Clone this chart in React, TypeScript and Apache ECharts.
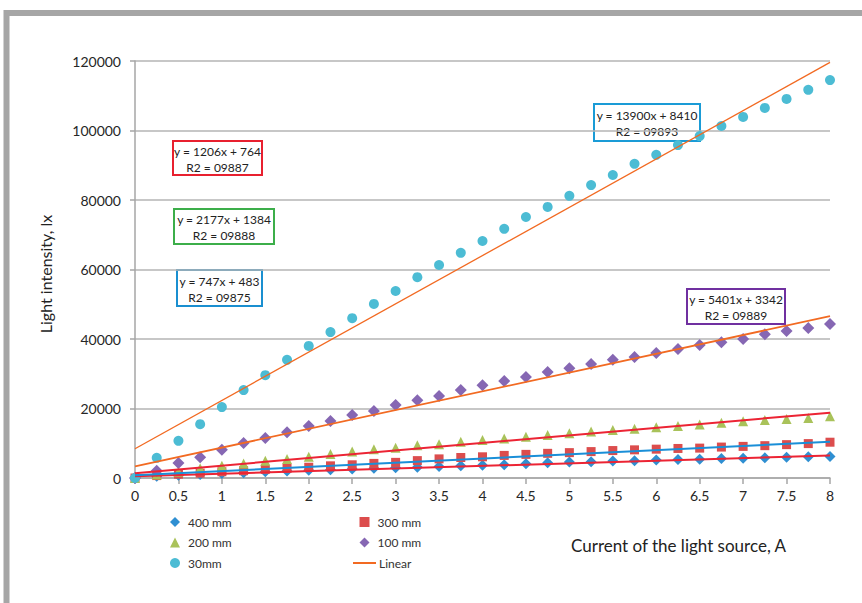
import React, { useEffect, useRef } from "react";
import * as echarts from "echarts";

const current = [0, 0.25, 0.5, 0.75, 1, 1.25, 1.5, 1.75, 2, 2.25, 2.5, 2.75, 3, 3.25, 3.5, 3.75, 4, 4.25, 4.5, 4.75, 5, 5.25, 5.5, 5.75, 6, 6.25, 6.5, 6.75, 7, 7.25, 7.5, 7.75, 8];

const lux400 = [0, 500, 800, 1000, 1300, 1500, 1800, 2000, 2200, 2400, 2600, 2800, 2950, 3100, 3300, 3500, 3700, 3800, 4100, 4400, 4600, 4700, 4900, 5000, 5200, 5300, 5400, 5600, 5700, 5800, 6000, 6100, 6200];
const lux300 = [0, 700, 1100, 1400, 1800, 2100, 2500, 2800, 3100, 3500, 3800, 4200, 4500, 5000, 5500, 5900, 6100, 6500, 6800, 7100, 7300, 7600, 7900, 8100, 8300, 8500, 8600, 8900, 9100, 9300, 9600, 9900, 10300];
const lux200 = [0, 1000, 1800, 2800, 3500, 4200, 5000, 5500, 6100, 6900, 7600, 8300, 8700, 9400, 9700, 10400, 10900, 11400, 11900, 12400, 12900, 13400, 13800, 14200, 14600, 15000, 15400, 15900, 16300, 16700, 17000, 17300, 17800];
const lux100 = [0, 2100, 4300, 6000, 8100, 10100, 11500, 13200, 15000, 16400, 18100, 19300, 21000, 22400, 23600, 25300, 26700, 27900, 29100, 30500, 31600, 32800, 34000, 34800, 36000, 37100, 38300, 39100, 40000, 41400, 42300, 43200, 44300];
const lux30 = [0, 5800, 10700, 15500, 20400, 25300, 29600, 34000, 38000, 42000, 46000, 50100, 53800, 57800, 61300, 64800, 68200, 71700, 75100, 78000, 81200, 84300, 87200, 90400, 93000, 95800, 98400, 101300, 103900, 106500, 109100, 111700, 114500];

const seriesNames = ["400 mm", "300 mm", "200 mm", "100 mm", "30mm"];
const trendSlopes = [747, 1206, 2177, 5401, 13900];
const trendIntercepts = [483, 764, 1384, 3342, 8410];
const trendR2 = ["09875", "09887", "09888", "09889", "09893"];
const trendNames = ["Linear 400", "Linear 300", "Linear 200", "Linear 100", "Linear"];

const xTitle = "Current of the light source, A";
const yTitle = "Light intensity, lx";

const FONT = "Lato, 'Open Sans', sans-serif";

export default function App() {
  const ref = useRef<HTMLDivElement>(null);
  useEffect(() => {
    if (!ref.current) return;
    const chart = echarts.init(ref.current, undefined, { renderer: "svg" });
    const allLux = [lux400, lux300, lux200, lux100, lux30];
    const markerColors = ["#2f8fd2", "#dc4d4d", "#a9c25a", "#8667b3", "#4cbcd4"];
    const markerSymbols = ["diamond", "rect", "triangle", "diamond", "circle"];
    const markerSizes = [11, 9, 10, 12, 10];
    const trendColors = ["#ec2434", "#1a8fd8", "#ec2434", "#f26a22", "#f26a22"];
    const trendWidths = [2, 2, 2, 1.8, 1.3];

    const scatterSeries = seriesNames.map((name, i) => ({
      name,
      type: "scatter",
      symbol: markerSymbols[i],
      symbolSize: markerSizes[i],
      itemStyle: { color: markerColors[i], opacity: 1 },
      data: current.map((c, k) => [c, allLux[i][k]]),
      z: 2,
    }));
    const lineSeries = trendNames.map((name, i) => ({
      name,
      type: "line",
      symbol: "none",
      silent: true,
      lineStyle: { color: trendColors[i], width: trendWidths[i] },
      itemStyle: { color: trendColors[i] },
      data: [
        [current[0], trendSlopes[i] * current[0] + trendIntercepts[i]],
        [current[current.length - 1], trendSlopes[i] * current[current.length - 1] + trendIntercepts[i]],
      ],
      z: 3,
    }));

    const boxes = [
      { idx: 1, x: 173, y: 141, w: 89, h: 34, stroke: "#e8202f" },
      { idx: 2, x: 174, y: 209, w: 100, h: 35, stroke: "#3cae4a" },
      { idx: 0, x: 177, y: 270, w: 85, h: 36, stroke: "#1a8fd0" },
      { idx: 4, x: 594, y: 104, w: 106, h: 37, stroke: "#1a9bd6" },
      { idx: 3, x: 687, y: 289, w: 98, h: 35, stroke: "#7030a0" },
    ];

    const graphic: any[] = [
      {
        type: "rect",
        shape: { x: 6.5, y: 13, width: 1200, height: 1200 },
        style: { fill: "none", stroke: "#a6a6a6", lineWidth: 6 },
        silent: true,
      },
      {
        type: "text",
        x: 45,
        y: 274,
        rotation: Math.PI / 2,
        style: { text: yTitle, fontFamily: FONT, fontSize: 16, fill: "#222", align: "center", verticalAlign: "middle" },
      },
      {
        type: "text",
        x: 571,
        y: 545,
        style: { text: xTitle, fontFamily: FONT, fontSize: 17, fill: "#222", align: "left", verticalAlign: "middle" },
      },
      ...boxes.map((b) => ({
        type: "group",
        x: b.x,
        y: b.y,
        z: 10,
        children: [
          {
            type: "rect",
            shape: { x: 0, y: 0, width: b.w, height: b.h },
            style: { fill: "#fff", stroke: b.stroke, lineWidth: 2 },
          },
          {
            type: "text",
            x: b.w / 2,
            y: b.h / 2 + 1,
            style: {
              text: `y = ${trendSlopes[b.idx]}x + ${trendIntercepts[b.idx]}\nR2 = ${trendR2[b.idx]}`,
              fontFamily: FONT,
              fontSize: 12,
              lineHeight: 16,
              fill: "#222",
              align: "center",
              verticalAlign: "middle",
            },
          },
        ],
      })),
    ];

    const legendText = { fontFamily: FONT, fontSize: 12, color: "#333", lineHeight: 14, padding: [0, 0, 0, 3] };
    const legendBase = {
      orient: "vertical",
      top: 515,
      padding: 0,
      itemWidth: 10,
      itemHeight: 10,
      itemGap: 6.5,
      selectedMode: false,
    };

    chart.setOption({
      animation: false,
      backgroundColor: "#fff",
      grid: { left: 135, right: 32, top: 61, bottom: 125 },
      xAxis: {
        type: "value",
        min: 0,
        max: 8,
        interval: 0.5,
        axisLine: { show: true, lineStyle: { color: "#a6a6a6", width: 1.5 } },
        axisTick: { show: true, length: 6, lineStyle: { color: "#a6a6a6", width: 1.5 } },
        axisLabel: { fontFamily: FONT, fontSize: 14, color: "#262626", margin: 10 },
        splitLine: { show: false },
      },
      yAxis: {
        type: "value",
        min: 0,
        max: 120000,
        interval: 20000,
        axisLine: { show: true, lineStyle: { color: "#a6a6a6", width: 1.5 } },
        axisTick: { show: true, length: 5, lineStyle: { color: "#a6a6a6", width: 1.5 } },
        axisLabel: { fontFamily: FONT, fontSize: 14, color: "#262626", margin: 14, formatter: (v: number) => String(v) },
        splitLine: { show: true, lineStyle: { color: "#b5b5b5", width: 1.5 } },
      },
      legend: [
        {
          ...legendBase,
          data: ["400 mm", "200 mm", "30mm"],
          left: 170,
          textStyle: legendText,
        },
        {
          ...legendBase,
          data: ["300 mm", "100 mm"],
          left: 359.5,
          textStyle: legendText,
        },
        {
          ...legendBase,
          data: [{ name: "Linear", icon: "path://M0,0H23V2H0Z" }],
          left: 353,
          top: 556,
          itemWidth: 23,
          itemHeight: 2,
          textStyle: { ...legendText, padding: [0, 0, 0, -2] },
        },
      ],
      series: [...scatterSeries, ...lineSeries],
      graphic,
    });
    return () => chart.dispose();
  }, []);
  return (
    <div
      ref={ref}
      style={{ position: "fixed", left: 0, top: 0, width: 862, height: 603, background: "#fff" }}
    />
  );
}
